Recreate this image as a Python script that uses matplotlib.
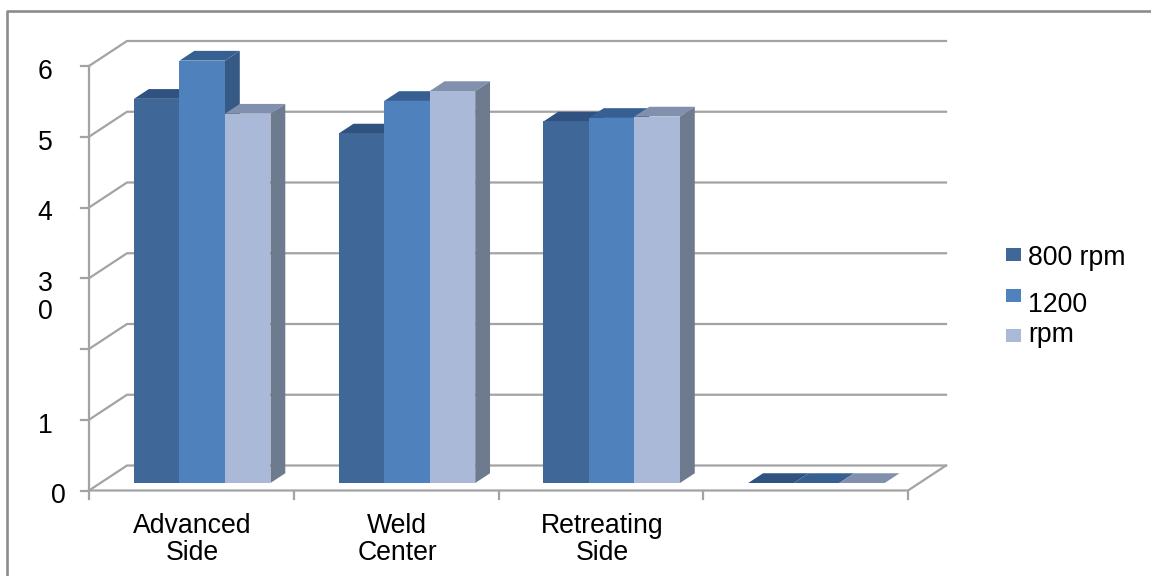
#importing required modules
import matplotlib
matplotlib.use('Agg')
import matplotlib.pyplot as plt
from matplotlib.lines import Line2D
from matplotlib.patches import Rectangle

plt.rcParams['font.family'] = ['Liberation Sans', 'DejaVu Sans']

categories = ['Advanced\nSide', 'Weld\nCenter', 'Retreating\nSide', '']
legend_labels = ['800 rpm', '1200', 'rpm']
rpm800 = [5.43, 4.94, 5.11, 0]
rpm1200 = [5.97, 5.40, 5.16, 0]
rpm_third = [5.22, 5.54, 5.18, 0]
y_ticks = [0, 1, 2, 3, 4, 5, 6]

front_cols = ['#3F6797', '#4F81BD', '#AAB9D7']
top_cols = ['#2F5280', '#376092', '#8190AC']
side_cols = ['#2F5280', '#355A86', '#6E7B8F']
grey = '#A3A3A3'

W, H = 1151, 576
fig = plt.figure(figsize=(W/100, H/100), dpi=100)

# axes box is the front plane of the 3d chart
ax = fig.add_axes([89/W, 1-490.5/H, 819/W, 424.5/H])
ax.set_xlim(0, 4)
ax.set_ylim(0, 6)
ax.axis('off')

PX = 819/4      # pixels per category
PY = 424.5/6    # pixels per y unit

# depth offset of the back wall, in data units
DX = 38/PX
DY = 25/PY

def skew(x, y, d):
    return x + d*DX, y + d*DY

def line3d(xs, ys, ds):
    pts = [skew(a, b, c) for a, b, c in zip(xs, ys, ds)]
    ax.plot([p[0] for p in pts], [p[1] for p in pts], color=grey, lw=1.6,
            clip_on=False, zorder=1)

# walls and gridlines
for t in y_ticks:
    line3d([0, 0, 4], [t, t, t], [0, 1, 1])
line3d([0, 0], [0, 6], [0, 0])
line3d([0, 4, 4], [0, 0, 0], [0, 0, 1])

# tick marks
for t in y_ticks:
    ax.plot([0, -8/PX], [t, t], color=grey, lw=1.6, clip_on=False, zorder=1)
for i in range(5):
    ax.plot([i, i], [0, -8/PY], color=grey, lw=1.6, clip_on=False, zorder=1)

# bars: top, side and front faces, left to right
bar_w = 0.2222
d0 = 0.30
d1 = 0.69
for i in range(len(categories)):
    for s, vals in enumerate([rpm800, rpm1200, rpm_third]):
        v = vals[i]
        x0 = i + 0.164 + s*bar_w
        x1 = x0 + bar_w
        faces = [
            (top_cols[s], [(x0, v, d0), (x1, v, d0), (x1, v, d1), (x0, v, d1)]),
            (side_cols[s], [(x1, 0, d0), (x1, v, d0), (x1, v, d1), (x1, 0, d1)]),
            (front_cols[s], [(x0, 0, d0), (x1, 0, d0), (x1, v, d0), (x0, v, d0)]),
        ]
        for col, corners in faces:
            if v == 0 and col != top_cols[s]:
                continue
            pts = [skew(*c) for c in corners]
            ax.fill([p[0] for p in pts], [p[1] for p in pts], color=col, lw=0,
                    clip_on=False, zorder=2)

# tick labels, the baseline of the digits sits 13px under each tick
fs = 19.2
for i, lab in enumerate(categories):
    ax.text(i + 0.5 + 1/PX, -69.5/PY, lab, ha='center', va='baseline', fontsize=fs,
            linespacing=1.05, clip_on=False)
for t, lab in zip([6, 5, 4, 3, 1], ['6', '5', '4', '3', '1']):
    ax.text(-44/PX, t - 13/PY, lab, ha='center', va='baseline', fontsize=fs)
# the label for 2 wrapped under the 3
ax.text(-44/PX, 3 - 41/PY, '0', ha='center', va='baseline', fontsize=fs)
ax.text(-31/PX, -12.5/PY, '0', ha='center', va='baseline', fontsize=fs)

# legend squares and labels
leg_sq = [248, 289, 329]
leg_base = [265, 311.5, 341.7]
for s in range(3):
    fig.add_artist(Rectangle((1006/W, 1-(leg_sq[s]+13)/H), 15/W, 13/H,
                             transform=fig.transFigure, color=front_cols[s], lw=0))
    fig.text(1028/W, 1-leg_base[s]/H, legend_labels[s], ha='left', va='baseline', fontsize=fs)

# outer chart frame, only left and top edges show
fig.add_artist(Line2D([7/W, 7/W, 1], [0, 1-11/H, 1-11/H], transform=fig.transFigure,
                      color='#8C8C8C', lw=1.9))

fig.savefig('out.png', dpi=100)
